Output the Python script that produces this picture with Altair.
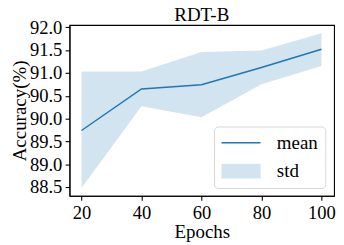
import altair as alt
import pandas as pd

epochs = [20, 40, 60, 80, 100]
acc_mean = [89.74, 90.65, 90.74, 91.12, 91.52]
acc_upper = [91.03, 91.03, 91.46, 91.49, 91.87]
acc_lower = [88.48, 90.27, 90.03, 90.75, 91.15]
series_names = ["mean", "std"]
y_ticks = [88.5, 89.0, 89.5, 90.0, 90.5, 91.0, 91.5, 92.0]
x_ticks = [20, 40, 60, 80, 100]

FONT = "Liberation Serif"
FS = 19.4
TFS = 19
BLUE = "#1f77b4"

mean_df = pd.DataFrame({"epochs": epochs, "acc": acc_mean, "series": series_names[0]})
std_df = pd.DataFrame({"epochs": epochs, "lower": acc_lower, "upper": acc_upper, "series": series_names[1]})

x_enc = alt.X("epochs:Q",
              scale=alt.Scale(domain=[16, 104.2], nice=False, zero=False),
              axis=alt.Axis(values=x_ticks, title="Epochs", format="d"))
y_scale = alt.Scale(domain=[88.31, 92.05], nice=False, zero=False)
y_axis = alt.Axis(values=y_ticks, title="Accuracy(%)", format=".1f")

color = alt.Color("series:N",
                  scale=alt.Scale(domain=series_names, range=[BLUE, BLUE]),
                  legend=alt.Legend(
                      title=None, orient="none", legendX=148, legendY=104,
                      symbolType={"expr": "datum.value == 'mean' ? 'M-2.667,0H2.667' : 'M-2.667,-1H2.667V1H-2.667Z'"},
                      symbolSize=225,
                      symbolStrokeWidth={"expr": "datum.value == 'mean' ? 1.5 : 0"},
                      symbolOpacity={"expr": "datum.value == 'mean' ? 1 : 0.2"},
                      symbolOffset=11, labelOffset=27,
                      labelFont=FONT, labelFontSize=FS, labelColor="black",
                      rowPadding=8, padding=7,
                      strokeColor="#d6d6d6", fillColor="rgba(255,255,255,0.8)",
                      cornerRadius=4))

band = alt.Chart(std_df).mark_area(opacity=0.2).encode(
    x=x_enc,
    y=alt.Y("lower:Q", scale=y_scale, axis=y_axis),
    y2="upper:Q",
    color=color,
)
line = alt.Chart(mean_df).mark_line(strokeWidth=1.5).encode(
    x=x_enc,
    y=alt.Y("acc:Q", scale=y_scale, axis=y_axis),
    color=color,
)

chart = alt.layer(band, line).properties(
    width=271, height=175,
    title=alt.TitleParams("RDT-B", font=FONT, fontSize=FS, fontWeight="normal",
                          color="black", offset=-7),
    autosize=alt.AutoSizeParams(type="none"),
    padding={"left": 63, "top": 14.5, "right": 2, "bottom": 47.5},
).configure_view(
    stroke="black", strokeWidth=1.1,
).configure_axis(
    grid=False, domainColor="black", domainWidth=1.1,
    tickColor="black", tickWidth=1.1, tickSize=4.5,
    labelFont=FONT, labelFontSize=TFS, labelColor="black", labelPadding=3.3,
    titleFont=FONT, titleFontSize=FS, titleColor="black", titleFontWeight="normal",
).configure_axisX(titlePadding=1).configure_axisY(titlePadding=0)

chart.save("out.html", embed_options={"renderer": "svg", "actions": False})
